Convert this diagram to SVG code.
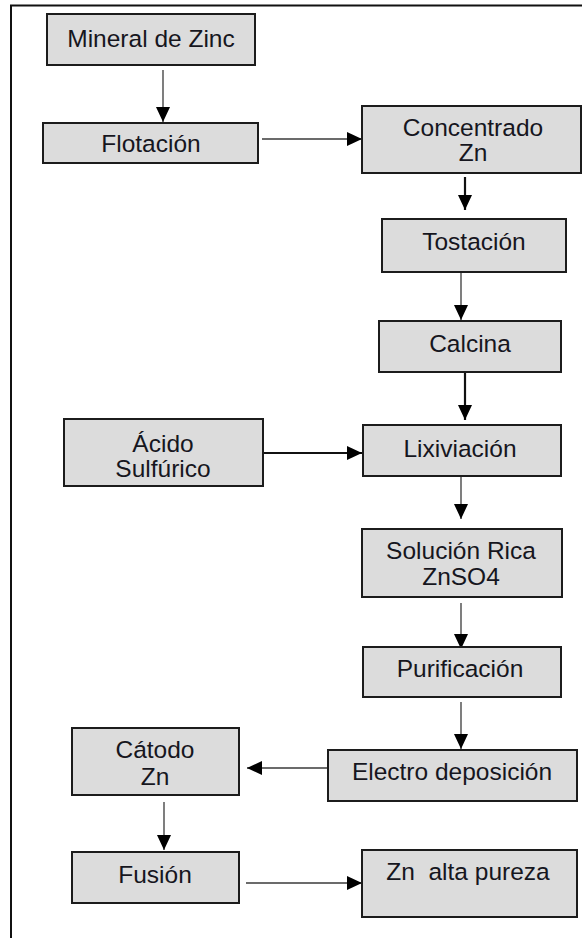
<svg xmlns="http://www.w3.org/2000/svg" width="582" height="938" viewBox="0 0 582 938">
<style>
.box{fill:#dcdcdc;stroke:#1c1c1c;stroke-width:2}
.t{font-family:"Liberation Sans",Arial,sans-serif;font-size:24.5px;fill:#16161e;text-anchor:middle}
.c{fill:none;stroke:#3a3a3a;stroke-width:1.3}
.ck{fill:none;stroke:#111;stroke-width:2.2}
.frame{fill:none;stroke:#111;stroke-width:2}
</style>
<defs>
<marker id="ah" markerUnits="userSpaceOnUse" markerWidth="15" markerHeight="14" refX="15" refY="7" orient="auto">
<path d="M0,0 L15,7 L0,14 z" fill="#000"/>
</marker>
</defs>
<rect width="582" height="938" fill="#fff"/>
<path class="frame" d="M11,938 V5.5 H582"/>
<g id="connectors">
<line class="c" x1="163" y1="70" x2="163" y2="122" marker-end="url(#ah)"/>
<line class="c" x1="262" y1="139" x2="362" y2="139" marker-end="url(#ah)"/>
<line class="ck" x1="465" y1="177" x2="465" y2="210" marker-end="url(#ah)"/>
<line class="c" x1="461" y1="272" x2="461" y2="320" marker-end="url(#ah)"/>
<line class="ck" x1="465" y1="372" x2="465" y2="420" marker-end="url(#ah)"/>
<line class="ck" x1="263" y1="453" x2="362" y2="453" marker-end="url(#ah)"/>
<line class="c" x1="461" y1="476" x2="461" y2="519" marker-end="url(#ah)"/>
<line class="c" x1="461" y1="603" x2="461" y2="649" marker-end="url(#ah)"/>
<line class="c" x1="461" y1="702" x2="461" y2="749" marker-end="url(#ah)"/>
<line class="c" x1="328" y1="768" x2="247" y2="768" marker-end="url(#ah)"/>
<line class="c" x1="164" y1="802" x2="164" y2="850" marker-end="url(#ah)"/>
<line class="c" x1="246" y1="883" x2="362" y2="883" marker-end="url(#ah)"/>
</g>
<g id="n1"><rect class="box" x="47" y="14" width="208" height="51"/><text class="t" x="151" y="47">Mineral de Zinc</text></g>
<g id="n2"><rect class="box" x="43" y="123" width="215" height="40"/><text class="t" x="151" y="152">Flotación</text></g>
<g id="n3"><rect class="box" x="362" y="106" width="219" height="67"/><text class="t" x="473" y="136">Concentrado</text><text class="t" x="473" y="161">Zn</text></g>
<g id="n4"><rect class="box" x="382" y="219" width="184" height="53"/><text class="t" x="474" y="250">Tostación</text></g>
<g id="n5"><rect class="box" x="379" y="321" width="182" height="51"/><text class="t" x="470" y="352">Calcina</text></g>
<g id="n6"><rect class="box" x="363" y="425" width="198" height="51"/><text class="t" x="460" y="457">Lixiviación</text></g>
<g id="n7"><rect class="box" x="64" y="419" width="199" height="67"/><text class="t" x="163" y="452">Ácido</text><text class="t" x="163" y="477">Sulfúrico</text></g>
<g id="n8"><rect class="box" x="362" y="529" width="200" height="68"/><text class="t" x="461" y="559">Solución Rica</text><text class="t" x="461" y="585">ZnSO4</text></g>
<g id="n9"><rect class="box" x="363" y="647" width="198" height="50"/><text class="t" x="460" y="677">Purificación</text></g>
<g id="n10"><rect class="box" x="328" y="750" width="249" height="51"/><text class="t" x="452" y="780">Electro deposición</text></g>
<g id="n11"><rect class="box" x="72" y="728" width="167" height="67"/><text class="t" x="155" y="758">Cátodo</text><text class="t" x="155" y="785">Zn</text></g>
<g id="n12"><rect class="box" x="72" y="852" width="167" height="51"/><text class="t" x="155" y="883">Fusión</text></g>
<g id="n13"><rect class="box" x="362" y="850" width="215" height="67"/><text class="t" x="468" y="880" xml:space="preserve">Zn  alta pureza</text></g>
</svg>
